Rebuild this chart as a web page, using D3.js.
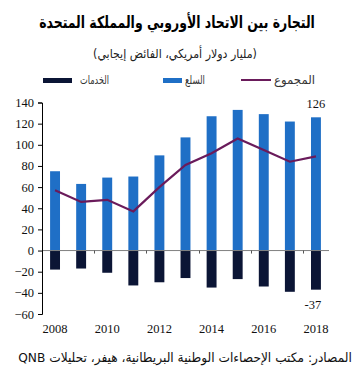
<!DOCTYPE html>
<html><head><meta charset="utf-8">
<script src="https://cdn.jsdelivr.net/npm/d3@7"></script>
<style>body{margin:0;background:#fff}</style>
</head><body>
<script>
const years = ["2008","2009","2010","2011","2012","2013","2014","2015","2016","2017","2018"];
const goods = [75,63,69,70,90,107,127,133,129,122,126];
const services = [-18,-17,-21,-33,-30,-26,-35,-27,-34,-39,-37];
const total = [57,46,48,37,60,81,92,106,95,84,89];
const yTicks = [140,120,100,80,60,40,20,0,-20,-40,-60];
const xLabels = ["2008","2010","2012","2014","2016","2018"];

const W=363,H=385;
const cGoods="#1f6fc6", cServ="#0b1535", cLine="#6a1b5b";
const svg=d3.select("body").append("svg").attr("width",W).attr("height",H);
const ar="'DejaVu Sans', sans-serif", num="'Liberation Serif', 'Times New Roman', serif";

const x=d3.scaleBand().domain(years).range([42,329]).paddingInner(0.62).paddingOuter(0.31);
const y=d3.scaleLinear().domain([-60,140]).range([314,102.5]);

// Arabic text fitted between left and right edges (horizontal scale only)
function arText(g,xl,xr,yy,size,txt,opts={}){
  const gg=g.append("g");
  const t=gg.append("text").attr("x",0).attr("y",0).attr("text-anchor","middle").attr("direction","rtl")
   .attr("font-family",ar).attr("font-size",size).attr("fill",opts.fill||"#222").text(txt);
  if(opts.bold) t.attr("font-weight","bold");
  const w=t.node().getBBox().width;
  const sx=(xr-xl)/w;
  gg.attr("transform",`translate(${(xl+xr)/2},${yy}) scale(${sx},1)`);
  return t;
}

// title / subtitle
arText(svg,39,315,28,16.5,"التجارة بين الاتحاد الأوروبي والمملكة المتحدة",{bold:true,fill:"#000"});
arText(svg,93,257,58,12.5,"(مليار دولار أمريكي، الفائض إيجابي)",{fill:"#222"});

// legend
const lg=svg.append("g");
lg.append("line").attr("x1",241).attr("x2",271).attr("y1",80).attr("y2",80).attr("stroke",cLine).attr("stroke-width",2);
arText(lg,274,315,84,12,"المجموع",{fill:"#333"});
lg.append("rect").attr("x",163).attr("y",78).attr("width",19).attr("height",5).attr("fill",cGoods);
arText(lg,185,205,84,12,"السلع",{fill:"#333"});
lg.append("rect").attr("x",43).attr("y",78).attr("width",29).attr("height",5).attr("fill",cServ);
arText(lg,80,109,84,12,"الخدمات",{fill:"#333"});

// bars
svg.append("g").selectAll("rect").data(years).join("rect")
 .attr("x",d=>x(d)).attr("width",x.bandwidth())
 .attr("y",(d,i)=>y(goods[i])).attr("height",(d,i)=>y(0)-y(goods[i])).attr("fill",cGoods);
svg.append("g").selectAll("rect").data(years).join("rect")
 .attr("x",d=>x(d)).attr("width",x.bandwidth())
 .attr("y",y(0)).attr("height",(d,i)=>y(services[i])-y(0)).attr("fill",cServ);

// zero line
svg.append("line").attr("x1",42).attr("x2",329).attr("y1",y(0)).attr("y2",y(0)).attr("stroke","#808080").attr("stroke-width",1);
// x ticks at category boundaries every 2 categories
const step=x.step();
svg.append("g").selectAll("line").data([2,4,6,8,10]).join("line")
 .attr("x1",i=>Math.round(42+i*step)+0.5).attr("x2",i=>Math.round(42+i*step)+0.5)
 .attr("y1",y(0)).attr("y2",y(0)+3).attr("stroke","#555");

// y axis
const ya=svg.append("g").attr("transform","translate(42,0)")
 .call(d3.axisLeft(y).tickValues(yTicks).tickSize(4).tickPadding(4).tickFormat(d3.format("d")));
ya.attr("font-family",num).attr("font-size",12.5);
ya.select(".domain").attr("stroke","#000");
ya.selectAll(".tick line").attr("stroke","#000");
ya.selectAll("text").attr("font-family",num).attr("font-size",12.5).attr("font-weight","normal").attr("fill","#111");

// x labels
svg.append("g").selectAll("text").data(xLabels).join("text")
 .attr("x",d=>x(d)+x.bandwidth()/2).attr("y",333).attr("text-anchor","middle")
 .attr("font-family",num).attr("font-size",12.5).attr("fill","#111").text(d=>d);

// line
const line=d3.line().x((d,i)=>x(years[i])+x.bandwidth()/2).y(d=>y(d));
svg.append("path").datum(total).attr("d",line).attr("fill","none").attr("stroke",cLine).attr("stroke-width",2.2);

// value labels
const last=years.length-1;
svg.append("text").attr("x",x(years[last])+x.bandwidth()/2).attr("y",y(goods[last])-9).attr("text-anchor","middle")
 .attr("font-family",num).attr("font-size",12.5).attr("fill","#111").text(goods[last]);
svg.append("text").attr("x",x(years[last])+x.bandwidth()/2-3).attr("y",y(services[last])+19).attr("text-anchor","middle")
 .attr("font-family",num).attr("font-size",12.5).attr("fill","#111").text(services[last]);

// source
arText(svg,18,352,362,13,"المصادر: مكتب الإحصاءات الوطنية البريطانية، هيفر، تحليلات QNB",{fill:"#111"});
</script>
</body></html>
